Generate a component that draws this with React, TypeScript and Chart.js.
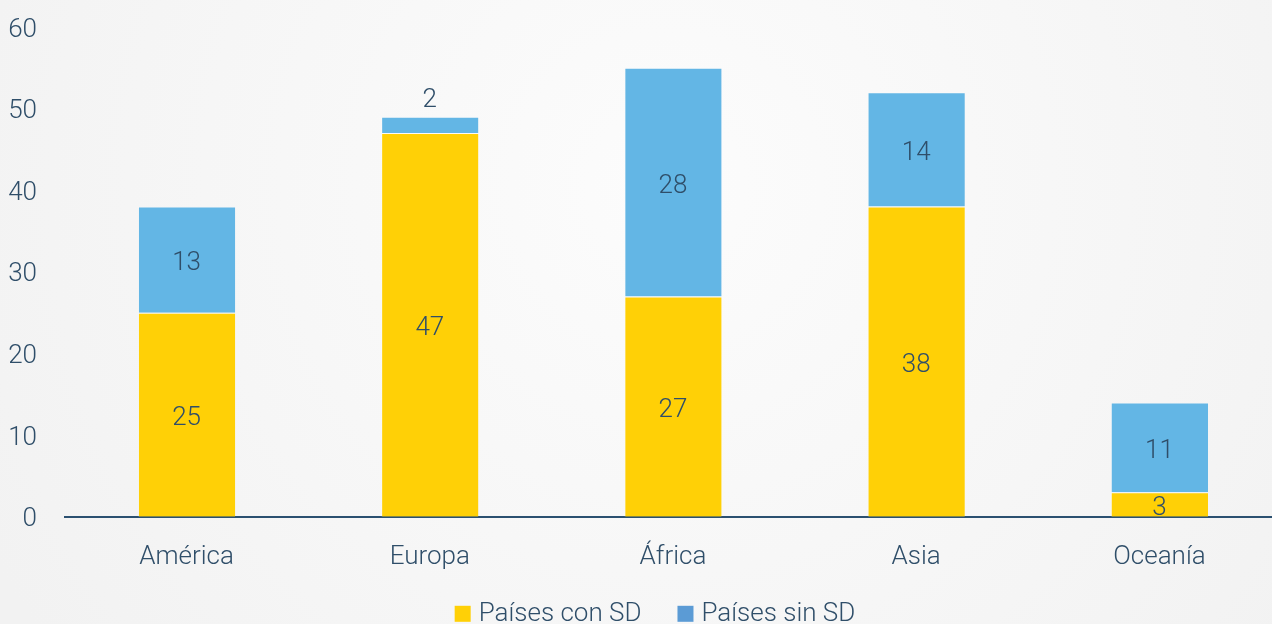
import React, { useEffect, useRef } from "react";
import { Chart, registerables } from "chart.js";

Chart.register(...registerables);

const categories = ["América", "Europa", "África", "Asia", "Oceanía"];
const conSD = [25, 47, 27, 38, 3];
const sinSD = [13, 2, 28, 14, 11];
const seriesNames = ["Países con SD", "Países sin SD"];
const barColors = ["#FFD006", "#63B6E5"];
const legendColors = ["#FFD006", "#5B9BD5"];
const yTicks = [0, 10, 20, 30, 40, 50, 60];

const TEXT = "#2F4E69";
const FONT = "Roboto";

const bgPlugin = {
  id: "bgGradient",
  beforeDraw(chart: any) {
    const { ctx, width, height } = chart;
    ctx.save();
    const g = ctx.createRadialGradient(width * 0.52, height * 0.3, 0, width * 0.52, height * 0.3, width * 0.6);
    g.addColorStop(0, "#FCFCFC");
    g.addColorStop(1, "#F2F2F2");
    ctx.fillStyle = g;
    ctx.fillRect(0, 0, width, height);
    ctx.restore();
  },
};

const valueLabels = {
  id: "valueLabels",
  afterDatasetsDraw(chart: any) {
    const { ctx } = chart;
    ctx.save();
    ctx.font = `300 26px ${FONT}`;
    ctx.fillStyle = TEXT;
    ctx.textAlign = "center";
    ctx.textBaseline = "middle";
    chart.data.datasets.forEach((ds: any, di: number) => {
      const meta = chart.getDatasetMeta(di);
      meta.data.forEach((el: any, i: number) => {
        const v = ds.data[i];
        const h = Math.abs(el.base - el.y);
        let y = (el.y + el.base) / 2;
        if (h < 20) y = el.y - 20;
        ctx.fillText(String(v), el.x, y + 4);
      });
    });
    ctx.restore();
  },
};

const customLegend = {
  id: "customLegend",
  afterDraw(chart: any) {
    const { ctx } = chart;
    ctx.save();
    ctx.font = `300 26px ${FONT}`;
    const w0 = ctx.measureText(seriesNames[0]).width;
    const w1 = ctx.measureText(seriesNames[1]).width;
    const box = 16;
    const gap = 8;
    const between = 36;
    const total = box + gap + w0 + between + box + gap + w1;
    let x = 655 - total / 2;
    const baseY = chart.chartArea.bottom + 104;
    seriesNames.forEach((name, i) => {
      ctx.fillStyle = legendColors[i];
      ctx.fillRect(x, baseY - 15, box, box);
      x += box + gap;
      ctx.fillStyle = TEXT;
      ctx.textAlign = "left";
      ctx.textBaseline = "alphabetic";
      ctx.fillText(name, x, baseY);
      x += (i === 0 ? w0 : w1) + between;
    });
    ctx.restore();
  },
};

export default function App() {
  const ref = useRef<HTMLCanvasElement | null>(null);

  useEffect(() => {
    document.body.style.margin = "0";
    document.body.style.overflow = "hidden";
    document.documentElement.style.overflow = "hidden";
    const chart = new Chart(ref.current as HTMLCanvasElement, {
      type: "bar",
      data: {
        labels: categories,
        datasets: [
          {
            label: seriesNames[0],
            data: conSD,
            backgroundColor: barColors[0],
            borderColor: "rgba(255,255,255,0.25)",
            borderWidth: { top: 1, left: 1, right: 0, bottom: 0 },
            borderSkipped: false,
          },
          {
            label: seriesNames[1],
            data: sinSD,
            backgroundColor: barColors[1],
            borderColor: "rgba(255,255,255,0.25)",
            borderWidth: { top: 1, left: 1, right: 0, bottom: 0 },
            borderSkipped: false,
          },
        ],
      },
      options: {
        responsive: false,
        animation: false,
        devicePixelRatio: 1,
        layout: { padding: { top: 27, bottom: 26, left: 0, right: 0 } },
        datasets: {
          bar: { barPercentage: 1, categoryPercentage: 0.4 },
        },
        plugins: {
          legend: { display: false },
          tooltip: { enabled: false },
        },
        scales: {
          x: {
            stacked: true,
            grid: { display: false, drawTicks: false },
            border: { display: true, color: "#2B5070", width: 2 },
            ticks: {
              color: TEXT,
              font: { family: FONT, size: 26, weight: "300" },
              padding: 25,
            },
          },
          y: {
            stacked: true,
            min: 0,
            max: 60,
            afterBuildTicks: (scale: any) => {
              scale.ticks = yTicks.map((v) => ({ value: v }));
            },
            afterFit: (scale: any) => {
              scale.width = 65;
              scale.paddingTop = 0;
              scale.paddingBottom = 0;
            },
            grid: { display: false, drawTicks: false },
            border: { display: false },
            ticks: {
              color: TEXT,
              font: { family: FONT, size: 26, weight: "300" },
              padding: 28,
              labelOffset: 3,
            },
          },
        },
      },
      plugins: [bgPlugin, valueLabels, customLegend],
    } as any);
    return () => chart.destroy();
  }, []);

  return (
    <div style={{ width: 1281, height: 624, overflow: "hidden" }}>
      <canvas ref={ref} width={1281} height={624} style={{ display: "block" }} />
    </div>
  );
}
